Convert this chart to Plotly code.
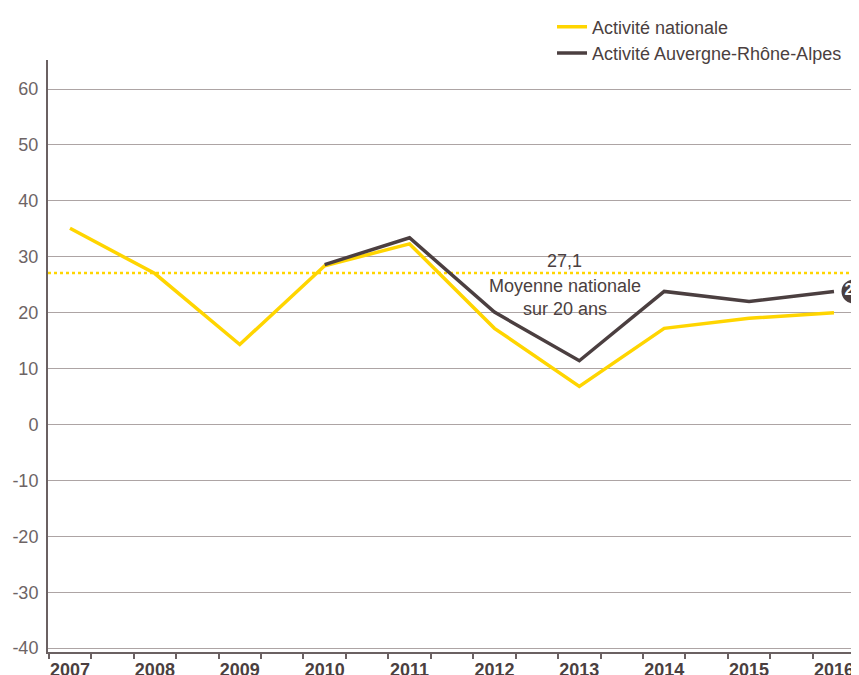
import plotly.graph_objects as go

years = [2007, 2008, 2009, 2010, 2011, 2012, 2013, 2014, 2015, 2016]
nationale = [35.1, 27.0, 14.3, 28.4, 32.3, 17.2, 6.8, 17.2, 19.0, 20.0]
ara_years = [2010, 2011, 2012, 2013, 2014, 2015, 2016]
ara = [28.6, 33.4, 20.1, 11.4, 23.8, 22.0, 23.8]
moyenne = 27.1
y_ticks = [60, 50, 40, 30, 20, 10, 0, -10, -20, -30, -40]
y_labels = ["60", "50", "40", "30", "20", "10", "0", "-10", "-20", "-30", "-40"]

YELLOW = "#FFD500"
DARK = "#4B3F40"
GRID = "#ADA4A4"
FONT = "Liberation Sans, Arial, sans-serif"

bubble_x = ara_years[-1] + 0.23

fig = go.Figure()
fig.add_trace(go.Scatter(x=years, y=nationale, mode="lines", name="Activité nationale",
                         line=dict(color=YELLOW, width=3.5)))
fig.add_trace(go.Scatter(x=ara_years, y=ara, mode="lines", name="Activité Auvergne-Rhône-Alpes",
                         line=dict(color=DARK, width=3.5)))
# end label bubble
fig.add_trace(go.Scatter(x=[bubble_x], y=[ara[-1]], mode="markers+text",
                         text=[str(round(ara[-1]))], textposition="middle center",
                         textfont=dict(color="white", size=16, family=FONT, weight="bold"),
                         marker=dict(size=24, color=DARK), showlegend=False,
                         cliponaxis=False, hoverinfo="skip"))
# hidden trace on xaxis2 for tick marks
fig.add_trace(go.Scatter(x=years, y=nationale, xaxis="x2", mode="none", showlegend=False,
                         hoverinfo="skip"))

xr = [2006.741, 2016.389]

fig.add_shape(type="line", xref="x", x0=xr[0], x1=bubble_x, yref="y", y0=moyenne, y1=moyenne,
              line=dict(color=YELLOW, width=2.5, dash="dot"), layer="below")

fig.add_annotation(x=2012.83, y=moyenne, text=str(moyenne).replace(".", ","), showarrow=False,
                   yanchor="bottom", yshift=0, font=dict(size=18, color=DARK, family=FONT))
fig.add_annotation(x=2012.83, y=moyenne, text="Moyenne nationale<br>sur 20 ans", showarrow=False,
                   yanchor="top", yshift=-1, font=dict(size=18, color=DARK, family=FONT))

fig.update_layout(
    width=859, height=667,
    margin=dict(l=40, r=0, t=52, b=23),
    paper_bgcolor="white", plot_bgcolor="white",
    font=dict(family=FONT, color=DARK),
    showlegend=True,
    legend=dict(x=0.6154, y=1.087, xanchor="left", yanchor="top",
                orientation="v", font=dict(size=18, color=DARK, family=FONT),
                bgcolor="rgba(0,0,0,0)", tracegroupgap=0, itemwidth=30),
    xaxis=dict(range=xr, tickvals=years, ticktext=[str(y) for y in years], ticks="",
               showgrid=False, zeroline=False, showline=True, linecolor="#6B6162", linewidth=2,
               tickfont=dict(size=18, color=DARK, family=FONT, weight="bold"), automargin=False,
               ticklabelstandoff=0),
    xaxis2=dict(range=xr, overlaying="x", side="bottom",
                tickvals=[v for y in years for v in (y - 0.25, y + 0.25)],
                ticks="outside", ticklen=6, tickcolor="#6B6162", tickwidth=1.5,
                showticklabels=False, showgrid=False, zeroline=False, showline=False),
    yaxis=dict(range=[-40.7, 65.2], tickvals=y_ticks, ticktext=y_labels, ticks="", showgrid=True,
               gridcolor=GRID, gridwidth=1, zeroline=False, showline=True, linecolor="#6B6162",
               linewidth=2, tickfont=dict(size=18, color="#6D6465", family=FONT),
               automargin=False, ticklabelstandoff=4),
)

fig.write_html("out.html")
